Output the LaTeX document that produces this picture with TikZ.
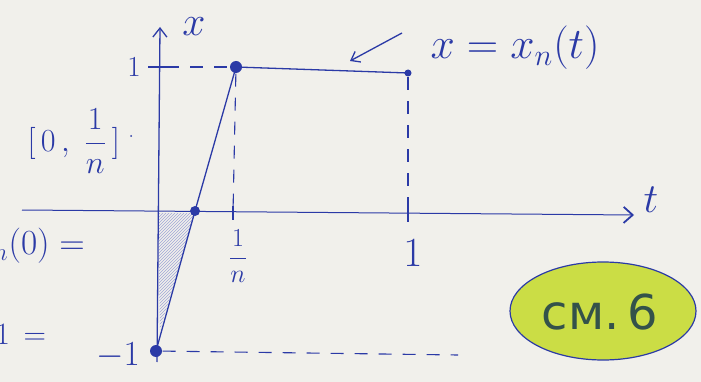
\documentclass[tikz,border=0pt]{standalone}
\usepackage{fontspec}
\newfontfamily\cyr{DejaVu Sans}
\usetikzlibrary{arrows.meta,patterns,shapes.geometric}
\definecolor{ink}{HTML}{2B3AA6}
\definecolor{paper}{HTML}{F1F0EB}
\definecolor{hl}{HTML}{CBDD45}
\definecolor{greenink}{HTML}{34524A}
\begin{document}
\begin{tikzpicture}[x=1pt,y=-1pt,color=ink,line width=1.3pt,
  txt/.style={font=\fontsize{20}{24}\selectfont,inner sep=0pt,scale=#1/20,transform shape},
  dot/.style={circle,fill=ink,inner sep=0pt,minimum size=#1},
  dotted guide/.style={dash pattern=on 13pt off 11pt,line width=1.1pt},
  tick/.style={line width=1.3pt}]
\fill[paper] (0,0) rectangle (701,382);
\useasboundingbox (0,0) rectangle (701,382);
% hatched region
\fill[pattern=north east lines,pattern color=ink!45] (158,213) -- (195,213) -- (160,330) -- cycle;
% axes
\coordinate (ybot) at (157,362);
\coordinate (ytop) at (160,27);
\coordinate (xleft) at (22,210);
\coordinate (xright) at (634,215);
\draw[-{Straight Barb[length=9pt,width=14pt]}] (ybot) -- (ytop);
\draw[line width=1pt,-{Straight Barb[length=9pt,width=16pt,line width=1.8pt]}] (xleft) -- (xright);
\node[txt=40] (xlab) at (194,27) {$x$};
\node[txt=40] (tlab) at (651,200) {$t$};
% key points
\node[dot=12pt] (A) at (236,67) {};
\node[dot=7pt] (B) at (408,73) {};
\node[dot=10pt] (C) at (195,211) {};
\node[dot=12pt] (D) at (156,351) {};
\coordinate (y1) at (166,67);
\coordinate (tn) at (233,213);
\coordinate (t1) at (408,214);
\coordinate (dend) at (458,355);
% ticks
\draw[tick] (148,67) -- (168,67);
\draw[tick] (tn) ++(0,-7) -- ++(0,14);
\draw[tick] (t1) ++(0,-8) -- ++(0,16);
% guides
\draw[dotted guide] (y1) -- (A);
\draw[dotted guide] (A) -- (tn);
\draw[dotted guide] (B) -- (t1);
\draw[dotted guide] (D) -- (dend);
% graph
\draw (D.center) -- (C.center) -- (A.center) -- (B.center);
% labels
\node[txt=28] (one) at (134,67) {$1$};
\node[txt=34] (mone) at (118,356) {$-1$};
\node[txt=25] (oneovern) at (238,256) {$\displaystyle\frac{1}{n}$};
\node[txt=40] (oneT) at (413,253) {$1$};
\node[txt=42] (eq) at (515,48) {$x=x_n(t)$};
\coordinate (arrS) at (402,33);
\coordinate (arrE) at (350,61);
\draw[-{Straight Barb[length=8pt,width=12pt]}] (arrS) -- (arrE);
% left partial text
\node[txt=31,anchor=east] (interval) at (121,141) {$[\,0\,,\;\displaystyle\frac{1}{n}\,]$};
\node[dot=2pt] (smalldot) at (131,136) {};
\node[txt=34,anchor=east] (xn0) at (86,246) {$x_n(0)=$};
\node[txt=30,anchor=east] (aeq) at (47,334) {$1\,=$};
% ellipse
\node[ellipse,draw=ink,fill=hl,line width=1.2pt,minimum width=186pt,minimum height=98pt] (ell) at (603,311) {};
\node[font=\cyr\fontsize{48}{52}\selectfont,color=greenink,inner sep=0pt] (see) at (600,312) {см.\,6};
\end{tikzpicture}
\end{document}
